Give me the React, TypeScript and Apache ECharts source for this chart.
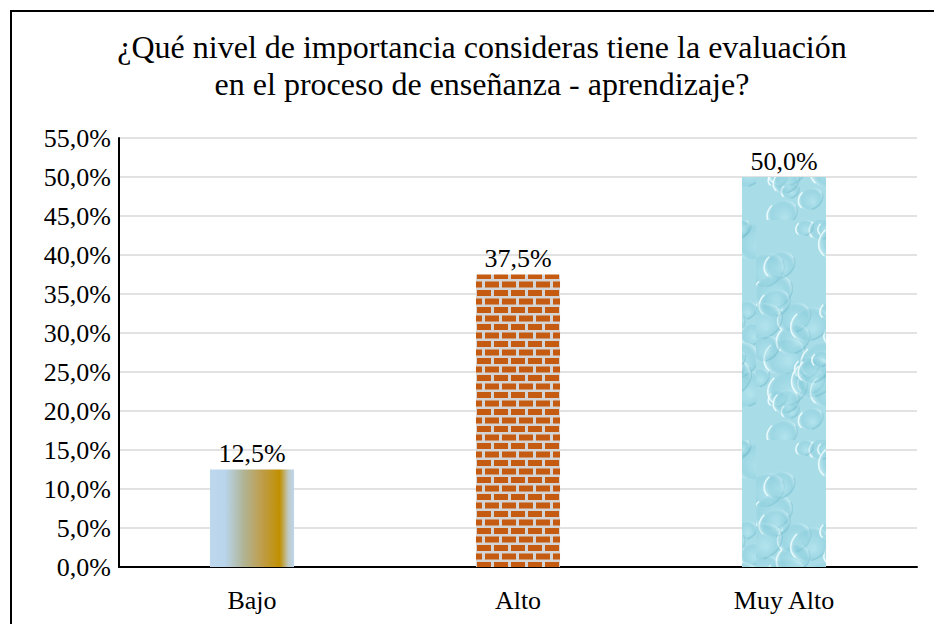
import React, { useEffect, useRef } from "react";
import * as echarts from "echarts";

const titleLines = ["¿Qué nivel de importancia consideras tiene la evaluación", "en el proceso de enseñanza - aprendizaje?"];
const categories = ["Bajo", "Alto", "Muy Alto"];
const values = [12.5, 37.5, 50.0];
const yTicks = { min: 0, max: 55, interval: 5 };

function brickPattern(): string {
  const c = document.createElement("canvas");
  c.width = 17;
  c.height = 17;
  const g = c.getContext("2d")!;
  g.fillStyle = "#d4d4d4";
  g.fillRect(0, 0, 17, 17);
  g.fillStyle = "#c55a11";
  g.fillRect(1, 1, 14, 6);
  g.fillRect(-8, 9.5, 14, 6);
  g.fillRect(9, 9.5, 14, 6);
  return c.toDataURL();
}

function waterPattern(): string {
  const w = 84, h = 220;
  const c = document.createElement("canvas");
  c.width = w;
  c.height = h;
  const g = c.getContext("2d")!;
  g.fillStyle = "#a8dde8";
  g.fillRect(0, 0, w, h);
  let s = 11;
  const rnd = () => {
    s = (s * 9301 + 49297) % 233280;
    return s / 233280;
  };
  for (let i = 0; i < 30; i++) {
    const x = rnd() * w;
    const y = rnd() * h;
    const r = 8 + rnd() * 16;
    const grad = g.createRadialGradient(x + r * 0.2, y + r * 0.25, r * 0.1, x, y, r);
    grad.addColorStop(0, "rgba(190,235,242,0.35)");
    grad.addColorStop(0.7, "rgba(120,195,212,0.25)");
    grad.addColorStop(1, "rgba(235,252,255,0.6)");
    g.fillStyle = grad;
    g.beginPath();
    g.ellipse(x, y, r, r * 0.8, -0.5, 0, Math.PI * 2);
    g.fill();
    g.strokeStyle = "rgba(245,255,255,0.8)";
    g.lineWidth = 1.5;
    g.beginPath();
    g.ellipse(x, y, r, r * 0.8, -0.5, Math.PI * 0.9, Math.PI * 1.4);
    g.stroke();
    g.strokeStyle = "rgba(90,170,190,0.3)";
    g.beginPath();
    g.ellipse(x, y, r, r * 0.8, -0.5, Math.PI * 0.0, Math.PI * 0.6);
    g.stroke();
  }
  return c.toDataURL();
}

export default function App() {
  const ref = useRef<HTMLDivElement>(null);
  useEffect(() => {
    if (!ref.current) return;
    const chart = echarts.init(ref.current, null, { renderer: "svg" });
    const font = "'Liberation Serif', 'Times New Roman', serif";
    const barColors: any[] = [
      {
        type: "linear", x: 0, y: 0, x2: 1, y2: 0,
        colorStops: [
          { offset: 0, color: "#bdd7ee" },
          { offset: 0.18, color: "#b9d5ec" },
          { offset: 0.4, color: "#b0b495" },
          { offset: 0.62, color: "#bf9d4a" },
          { offset: 0.83, color: "#c09000" },
          { offset: 0.93, color: "#bfc9c0" },
          { offset: 1, color: "#bdd7ee" },
        ],
      },
      { image: brickPattern(), repeat: "repeat" },
      { image: waterPattern(), repeat: "repeat" },
    ];
    chart.setOption({
      animation: false,
      backgroundColor: "#ffffff",
      graphic: [
        {
          type: "text",
          x: 482,
          y: 28,
          style: {
            text: titleLines.join("\n"),
            fontFamily: font,
            fontSize: 32,
            lineHeight: 37,
            fill: "#000",
            align: "center",
            verticalAlign: "top",
          },
        },
        {
          type: "rect",
          shape: { x: 11, y: 11, width: 1000, height: 1000 },
          style: { fill: "none", stroke: "#000", lineWidth: 2 },
          z: 100,
        },
      ],
      grid: { left: 119, right: 17, top: 138, bottom: 57, containLabel: false },
      xAxis: {
        type: "category",
        data: categories,
        axisLine: { lineStyle: { color: "#000", width: 2 } },
        axisTick: { show: false },
        axisLabel: { fontFamily: font, fontSize: 26, color: "#000", margin: 20 },
      },
      yAxis: {
        type: "value",
        min: yTicks.min,
        max: yTicks.max,
        interval: yTicks.interval,
        axisLine: { show: true, lineStyle: { color: "#000", width: 2 } },
        axisTick: { show: false },
        splitLine: { lineStyle: { color: "#d9d9d9", width: 1.5 } },
        axisLabel: {
          fontFamily: font,
          fontSize: 26,
          color: "#000",
          margin: 8,
          formatter: (v: number) => v.toFixed(1).replace(".", ",") + "%",
        },
      },
      series: [
        {
          type: "bar",
          barWidth: "31.6%",
          data: values.map((v, i) => ({ value: v, itemStyle: { color: barColors[i] } })),
          label: {
            show: true,
            position: "top",
            distance: 3,
            fontFamily: font,
            fontSize: 26,
            color: "#000",
            formatter: (p: any) => p.value.toFixed(1).replace(".", ",") + "%",
          },
        },
      ],
    });
    return () => chart.dispose();
  }, []);
  return <div ref={ref} style={{ position: "fixed", left: 0, top: 0, width: 934, height: 624 }} />;
}
